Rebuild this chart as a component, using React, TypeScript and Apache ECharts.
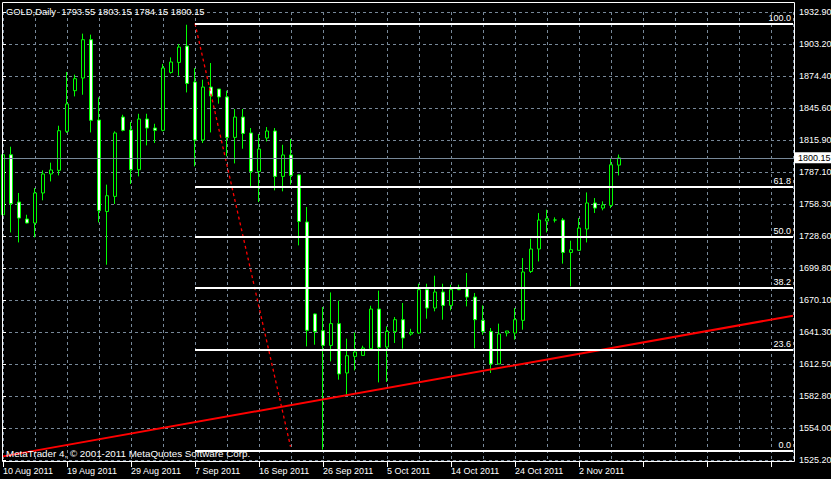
import React, { useEffect, useRef } from 'react';
import * as echarts from 'echarts';

// ---- data ----
const dateLabels = ['10 Aug 2011', '19 Aug 2011', '29 Aug 2011', '7 Sep 2011', '16 Sep 2011', '26 Sep 2011', '5 Oct 2011', '14 Oct 2011', '24 Oct 2011', '2 Nov 2011'];
const priceLabels = ['1525.20', '1554.00', '1582.80', '1612.50', '1641.30', '1670.10', '1699.80', '1728.60', '1758.30', '1787.10', '1815.90', '1845.60', '1874.40', '1903.20', '1932.90'];

const opens = [
  1748.4, 1803.0, 1760.0, 1744.5, 1740.9, 1768.2, 1785.5, 1788.8, 1824.3, 1861.3,
  1872.8, 1907.7, 1834.6, 1751.4, 1765.1, 1837.3, 1825.5, 1789.4, 1835.5, 1827.3,
  1825.2, 1877.9, 1887.0, 1901.9, 1869.2, 1816.4, 1864.6, 1862.8, 1855.6, 1818.8,
  1837.3, 1822.8, 1787.8, 1818.2, 1824.6, 1783.3, 1802.8, 1784.6, 1741.8, 1658.1,
  1642.9, 1629.5, 1649.3, 1604.4, 1619.5, 1620.4, 1626.5, 1662.6, 1628.0, 1642.2,
  1652.9, 1639.8, 1640.8, 1680.2, 1663.5, 1678.1, 1665.9, 1680.2, 1681.7, 1673.5,
  1652.3, 1642.2, 1612.6, 1640.8, 1640.8, 1652.3, 1696.8, 1717.2, 1742.7, 1743.6,
  1743.6, 1714.1, 1716.0, 1735.4, 1759.1, 1754.5, 1756.9, 1793.55
];
const closes = [
  1803.0, 1758.5, 1745.4, 1740.9, 1768.2, 1785.5, 1789.1, 1824.9, 1849.2, 1872.2,
  1907.7, 1834.3, 1752.3, 1765.7, 1822.8, 1825.2, 1789.4, 1835.5, 1827.3, 1825.2,
  1881.9, 1887.4, 1901.0, 1867.9, 1816.4, 1864.6, 1856.5, 1855.6, 1818.8, 1837.3,
  1822.4, 1787.8, 1808.2, 1824.6, 1783.3, 1802.8, 1784.2, 1742.3, 1643.2, 1642.2,
  1629.5, 1649.3, 1603.5, 1620.1, 1623.5, 1627.1, 1662.6, 1627.7, 1642.2, 1652.9,
  1636.2, 1641.3, 1680.2, 1663.5, 1678.1, 1665.9, 1680.2, 1680.6, 1673.5, 1652.9,
  1642.2, 1612.6, 1639.9, 1642.6, 1652.9, 1696.3, 1717.2, 1743.6, 1744.8, 1743.6,
  1714.1, 1716.6, 1736.3, 1759.1, 1754.5, 1757.3, 1793.9, 1800.15
];
const lows = [
  1737.8, 1732.3, 1723.2, 1740.5, 1727.8, 1761.5, 1778.7, 1784.2, 1822.8, 1856.1,
  1857.6, 1823.3, 1741.4, 1702.9, 1758.2, 1824.3, 1776.4, 1783.3, 1811.5, 1813.7,
  1824.3, 1876.8, 1874.9, 1859.7, 1792.4, 1813.7, 1823.3, 1849.5, 1801.5, 1795.1,
  1808.5, 1774.2, 1760.0, 1815.1, 1770.6, 1769.7, 1775.8, 1720.5, 1628.6, 1630.1,
  1534.6, 1614.9, 1598.3, 1584.6, 1606.8, 1620.4, 1625.6, 1595.8, 1596.2, 1631.7,
  1626.5, 1638.4, 1639.9, 1653.8, 1660.5, 1652.9, 1661.4, 1679.8, 1665.0, 1626.8,
  1639.2, 1604.4, 1612.6, 1637.7, 1634.7, 1643.8, 1695.4, 1705.9, 1732.3, 1741.4,
  1703.9, 1683.2, 1716.0, 1723.2, 1750.0, 1752.4, 1754.5, 1784.15
];
const highs = [
  1816.7, 1810.3, 1768.2, 1748.4, 1772.7, 1788.8, 1795.8, 1829.4, 1878.3, 1875.9,
  1913.2, 1912.3, 1855.2, 1775.8, 1824.3, 1839.4, 1832.8, 1840.3, 1840.3, 1831.2,
  1885.6, 1891.6, 1903.8, 1921.3, 1881.9, 1871.3, 1886.5, 1862.8, 1861.3, 1844.6,
  1844.6, 1827.3, 1821.9, 1828.2, 1827.3, 1812.1, 1817.3, 1785.0, 1755.4, 1658.5,
  1664.4, 1677.7, 1670.2, 1635.6, 1641.3, 1629.2, 1665.6, 1679.3, 1646.8, 1655.3,
  1668.1, 1644.6, 1685.6, 1685.6, 1692.9, 1685.6, 1684.7, 1684.7, 1695.4, 1677.2,
  1665.9, 1645.3, 1649.3, 1642.6, 1663.5, 1709.0, 1726.6, 1749.9, 1753.0, 1746.0,
  1745.4, 1724.8, 1745.4, 1768.7, 1763.6, 1760.6, 1800.0, 1803.15
];

const trendX = [0, 98.75];
const trendY = [1528.5, 1656.5];
const fibDiagX = [24, 35.94];
const fibDiagY = [1922.5, 1537.3];
const fibHigh = 1922.5;
const fibLow = 1534.0;
const fibLevels = [0, 23.6, 38.2, 50, 61.8, 100];
const fibStartX = 24;
const lastPrice = 1800.15;
const titleText = 'GOLD,Daily\u00A0\u00A01793.55 1803.15 1784.15 1800.15';
const copyrightText = 'MetaTrader 4, \u00A9 2001-2011 MetaQuotes Software Corp.';

// ---- axis extents ----
const yMin = 1525.2;
const yMax = 1932.9;
const yStep = (yMax - yMin) / 14;
const xMin = 0;
const xMax = 98.75;

const FONT = '"Liberation Sans", Arial, sans-serif';
const GRID_COLOR = '#778899';

export default function App() {
  const ref = useRef<HTMLDivElement>(null);

  useEffect(() => {
    if (!ref.current) return;
    const chart = echarts.init(ref.current, undefined, { renderer: 'svg' });

    const candleData = opens.map((o, i) => [i, o, closes[i], lows[i], highs[i]]);

    const fibLines = fibLevels.map((lv) => {
      const p = fibLow + ((fibHigh - fibLow) * lv) / 100;
      return [
        {
          name: lv.toFixed(1),
          coord: [fibStartX, p],
          lineStyle: { color: '#ffffff', width: 2, type: 'solid' },
          label: {
            show: true,
            position: 'insideEndTop',
            formatter: (pr: any) => pr.name,
            color: '#ffffff',
            fontSize: 9,
            fontFamily: FONT,
            distance: [2, 1],
          },
        },
        { coord: [xMax, p] },
      ];
    });

    const option: any = {
      animation: false,
      backgroundColor: '#000000',
      grid: {
        left: 3,
        top: 12,
        width: 790,
        height: 448,
        containLabel: false,
        outerBoundsMode: 'none',
      },
      xAxis: [
        {
          type: 'value',
          min: xMin,
          max: xMax,
          interval: 8,
          position: 'bottom',
          offset: 2,
          axisLine: { show: false },
          axisTick: { show: true, length: 5, lineStyle: { color: '#ffffff' } },
          splitLine: { show: false },
          axisLabel: {
            show: true,
            color: '#ffffff',
            fontSize: 9,
            fontFamily: FONT,
            align: 'left',
            margin: 4,
            showMaxLabel: false,
            formatter: (v: number) => {
              const i = Math.round(v / 8);
              if (Math.abs(v - i * 8) > 0.01) return '';
              return dateLabels[i] ?? '';
            },
          },
        },
        {
          type: 'value',
          min: xMin,
          max: xMax,
          interval: 4,
          position: 'bottom',
          axisLine: { show: false },
          axisTick: { show: false },
          axisLabel: { show: false },
          splitLine: { show: true, lineStyle: { color: GRID_COLOR, width: 1, type: [3, 3] } },
        },
      ],
      yAxis: {
        type: 'value',
        position: 'right',
        min: yMin,
        max: yMax,
        interval: yStep,
        scale: true,
        axisLine: { show: false },
        axisTick: { show: true, length: 3, lineStyle: { color: '#ffffff' } },
        splitLine: { show: true, lineStyle: { color: GRID_COLOR, width: 1, type: [3, 3] } },
        axisLabel: {
          color: '#ffffff',
          fontSize: 9,
          fontFamily: FONT,
          margin: 6,
          formatter: (v: number) => priceLabels[Math.round((v - yMin) / yStep)] ?? '',
        },
      },
      series: [
        {
          type: 'candlestick',
          xAxisIndex: 0,
          yAxisIndex: 0,
          data: candleData,
          barWidth: 4,
          clip: true,
          silent: true,
          itemStyle: {
            color: '#000000',
            color0: '#ffffff',
            borderColor: '#00ff00',
            borderColor0: '#00ff00',
            borderColorDoji: '#00ff00',
            borderWidth: 1,
          },
          markLine: {
            silent: true,
            symbol: ['none', 'none'],
            animation: false,
            data: [
              {
                yAxis: lastPrice,
                lineStyle: { color: GRID_COLOR, width: 1, type: 'solid' },
                label: {
                  show: true,
                  position: 'end',
                  formatter: lastPrice.toFixed(2),
                  color: '#000000',
                  backgroundColor: '#ffffff',
                  fontSize: 9,
                  fontFamily: FONT,
                  padding: [1, 8, 1, 4],
                  distance: 1,
                },
              },
              ...fibLines,
            ],
          },
        },
        {
          type: 'line',
          xAxisIndex: 0,
          data: fibDiagX.map((x, i) => [x, fibDiagY[i]]),
          symbol: 'none',
          silent: true,
          z: 3,
          lineStyle: { color: '#ff0000', width: 1.3, type: [3, 3] },
        },
        {
          type: 'line',
          xAxisIndex: 0,
          data: trendX.map((x, i) => [x, trendY[i]]),
          symbol: 'none',
          silent: true,
          z: 4,
          lineStyle: { color: '#ff0000', width: 2 },
        },
      ],
      graphic: [
        {
          type: 'rect',
          z: 100,
          silent: true,
          shape: { x: 2.5, y: 2.5, width: 792, height: 459 },
          style: { fill: 'none', stroke: '#ffffff', lineWidth: 1 },
        },
        {
          type: 'text',
          z: 101,
          x: 6,
          y: 11,
          silent: true,
          style: { text: titleText, fill: '#ffffff', fontSize: 9.4, fontFamily: FONT, verticalAlign: 'middle', align: 'left' },
        },
        {
          type: 'text',
          z: 101,
          x: 6,
          y: 453,
          silent: true,
          style: { text: copyrightText, fill: '#ffffff', fontSize: 9.8, fontFamily: FONT, verticalAlign: 'middle', align: 'left' },
        },
      ],
    };

    chart.setOption(option);
    return () => chart.dispose();
  }, []);

  return (
    <div
      ref={ref}
      style={{ position: 'fixed', left: 0, top: 0, width: 831, height: 479, background: '#000000' }}
    />
  );
}
